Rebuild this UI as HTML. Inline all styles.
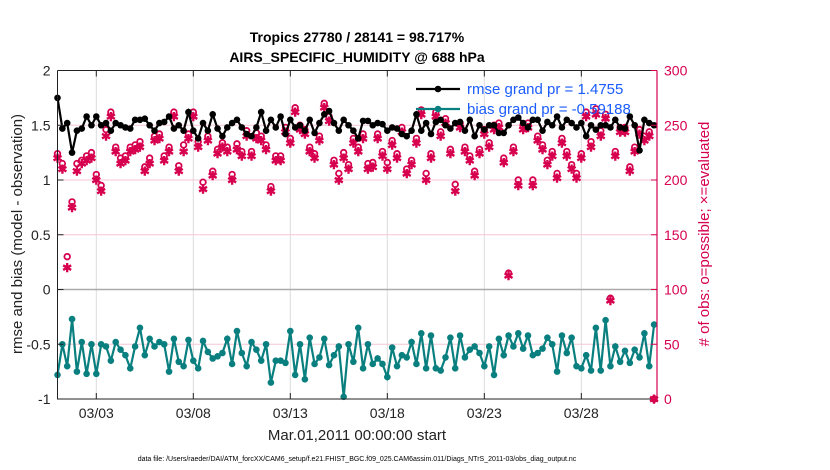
<!DOCTYPE html>
<html><head><meta charset="utf-8"><style>
html,body{margin:0;padding:0;background:#fff;}
svg{display:block;font-family:"Liberation Sans",Arial,sans-serif;}
</style></head><body>
<svg id="chart" width="830" height="470" viewBox="0 0 830 470" xmlns="http://www.w3.org/2000/svg">
<text x="357" y="42" text-anchor="middle" font-size="14" font-weight="bold">Tropics 27780 / 28141 = 98.717%</text>
<text x="357" y="62" text-anchor="middle" font-size="14" font-weight="bold">AIRS_SPECIFIC_HUMIDITY @ 688 hPa</text>
<g id="grid"></g>
<g id="marks"></g>
<g id="axes"></g>
<text x="357" y="440" text-anchor="middle" font-size="15" fill="#222">Mar.01,2011 00:00:00 start</text>
<text x="357" y="461" text-anchor="middle" font-size="7" fill="#000">data file: /Users/raeder/DAI/ATM_forcXX/CAM6_setup/f.e21.FHIST_BGC.f09_025.CAM6assim.011/Diags_NTrS_2011-03/obs_diag_output.nc</text>
<text transform="translate(22,234) rotate(-90)" text-anchor="middle" font-size="15" fill="#222">rmse and bias (model - observation)</text>
<text transform="translate(709,234) rotate(-90)" text-anchor="middle" font-size="15" fill="#d6004f">#  of obs: o=possible; ×=evaluated</text>
<g id="legend"></g>
</svg>
<script>
const xTickDays=[2,7,12,17,22,27];
const xTickLabels=["03/03","03/08","03/13","03/18","03/23","03/28"];
const leftTicks=[2,1.5,1,0.5,0,-0.5,-1];
const rightTicks=[300,250,200,150,100,50,0];
const rmse=[1.75,1.47,1.52,1.25,1.45,1.47,1.58,1.50,1.58,1.50,1.52,1.45,1.52,1.50,1.48,1.47,1.55,1.55,1.56,1.50,1.45,1.52,1.53,1.58,1.47,1.50,1.45,1.62,1.45,1.38,1.52,1.45,1.60,1.47,1.40,1.48,1.52,1.55,1.48,1.42,1.40,1.48,1.62,1.45,1.55,1.48,1.58,1.42,1.55,1.48,1.50,1.45,1.55,1.43,1.52,1.60,1.63,1.52,1.45,1.55,1.50,1.45,1.38,1.54,1.54,1.50,1.52,1.51,1.45,1.48,1.47,1.42,1.40,1.45,1.60,1.45,1.52,1.42,1.53,1.55,1.50,1.47,1.52,1.53,1.45,1.55,1.40,1.50,1.46,1.50,1.50,1.43,1.43,1.50,1.55,1.57,1.52,1.48,1.55,1.55,1.45,1.53,1.50,1.58,1.48,1.55,1.52,1.48,1.52,1.40,1.50,1.46,1.50,1.50,1.48,1.55,1.48,1.47,1.58,1.50,1.27,1.55,1.52,1.50];
const bias=[-0.78,-0.50,-0.70,-0.27,-0.75,-0.48,-0.77,-0.50,-0.77,-0.50,-0.52,-0.65,-0.48,-0.55,-0.60,-0.72,-0.52,-0.35,-0.60,-0.45,-0.52,-0.48,-0.50,-0.75,-0.45,-0.66,-0.70,-0.46,-0.65,-0.72,-0.47,-0.57,-0.63,-0.61,-0.58,-0.45,-0.68,-0.38,-0.58,-0.70,-0.48,-0.55,-0.65,-0.50,-0.85,-0.65,-0.65,-0.67,-0.38,-0.78,-0.50,-0.82,-0.44,-0.68,-0.62,-0.45,-0.69,-0.60,-0.52,-0.98,-0.50,-0.66,-0.35,-0.72,-0.50,-0.68,-0.63,-0.68,-0.80,-0.53,-0.70,-0.60,-0.62,-0.48,-0.68,-0.40,-0.72,-0.42,-0.72,-0.74,-0.62,-0.44,-0.72,-0.42,-0.62,-0.55,-0.52,-0.58,-0.70,-0.52,-0.78,-0.45,-0.60,-0.42,-0.52,-0.40,-0.54,-0.42,-0.60,-0.58,-0.54,-0.44,-0.50,-0.75,-0.42,-0.58,-0.44,-0.70,-0.72,-0.60,-0.74,-0.35,-0.74,-0.28,-0.70,-0.52,-0.66,-0.56,-0.67,-0.55,-0.62,-0.40,-0.70,-0.32];
const possible=[224,215,130,180,215,218,222,225,205,195,246,262,230,220,222,230,232,235,212,220,240,242,222,230,262,213,232,242,262,235,198,240,208,228,234,230,205,233,226,245,226,243,240,232,194,222,222,248,238,266,250,246,230,224,240,270,258,218,206,225,214,238,230,242,215,216,242,226,216,236,224,248,210,218,238,264,206,224,262,244,256,228,196,252,230,222,208,228,246,234,250,252,220,115,230,200,250,252,200,240,232,218,226,206,238,226,214,206,224,262,235,265,245,260,92,226,248,248,212,230,246,240,244,0];
const evaluated=[220,210,120,175,208,215,218,220,200,190,240,258,226,215,218,226,228,230,208,215,236,238,218,226,258,208,226,238,258,230,192,236,204,224,230,226,200,228,222,240,222,238,236,228,190,218,218,244,234,262,246,242,226,220,236,266,254,214,200,220,210,234,226,238,210,212,238,222,210,232,220,244,206,214,234,260,200,220,258,240,252,224,190,248,226,218,204,224,242,230,246,248,216,113,226,195,246,248,195,236,228,214,222,202,234,222,210,202,220,258,230,260,240,256,90,222,244,244,208,226,242,236,240,0];
const X0=57.5,X1=657,Y0=70.5,Y1=399,NDAYS=30.9;
function xDay(d){return X0+(d/NDAYS)*(X1-X0);}
function xIdx(i){return xDay(i*0.25);}
function yL(v){return Y0+(2-v)/3*(Y1-Y0);}
function yR(v){return Y1-v/300*(Y1-Y0);}
const NS="http://www.w3.org/2000/svg";
function mk(tag,attrs,parent){const e=document.createElementNS(NS,tag);for(const k in attrs)e.setAttribute(k,attrs[k]);parent.appendChild(e);return e;}
const grid=document.getElementById('grid'),marks=document.getElementById('marks'),axes=document.getElementById('axes'),legend=document.getElementById('legend');
xTickDays.forEach((d,i)=>{const l=mk('line',{x1:xDay(d),x2:xDay(d),y1:Y0,y2:Y1,stroke:'#dcdcdc','stroke-width':1},grid);

});
rightTicks.forEach(v=>{if(v===0||v===300||v===100)return;const l=mk('line',{x1:X0,x2:X1,y1:yR(v),y2:yR(v),stroke:'#f5c6d6','stroke-width':1},grid);

});
const zl=mk('line',{x1:X0,x2:X1,y1:yL(0),y2:yL(0),stroke:'#aaa','stroke-width':1.5},grid);


const pink='#d6004f';
possible.forEach((v,i)=>{const g=mk('circle',{cx:xIdx(i),cy:yR(v),r:2.8,fill:'none',stroke:pink,'stroke-width':1.8},marks);

});
evaluated.forEach((v,i)=>{const x=xIdx(i),y=yR(v);const t=mk('text',{x:x,y:y+4.5,'text-anchor':'middle','font-size':12,'font-weight':'bold',fill:pink},marks);t.textContent='✱';

});
function series(arr,color,name){const pts=arr.map((v,i)=>xIdx(i).toFixed(1)+','+yL(v).toFixed(1)).join(' ');
const p=mk('polyline',{points:pts,fill:'none',stroke:color,'stroke-width':2.2},marks);


arr.forEach((v,i)=>{const c=mk('circle',{cx:xIdx(i),cy:yL(v),r:3.3,fill:color},marks);

});}
series(rmse,'#000','rmse');
series(bias,'#0a7f7f','bias');
const ab=mk('path',{d:`M${X0},${Y0}V${Y1}H${X1}M${X0},${Y0}H${X1}`,fill:'none',stroke:'#222','stroke-width':1},axes);


const ra=mk('line',{x1:X1,x2:X1,y1:Y0,y2:Y1,stroke:pink,'stroke-width':1.2},axes);


xTickDays.forEach((d,i)=>{mk('line',{x1:xDay(d),x2:xDay(d),y1:Y1,y2:Y1-6,stroke:'#222'},axes);mk('line',{x1:xDay(d),x2:xDay(d),y1:Y0,y2:Y0+6,stroke:'#222'},axes);
const t=mk('text',{x:xDay(d),y:Y1+19,'text-anchor':'middle','font-size':14,fill:'#222'},axes);t.textContent=xTickLabels[i];

});
leftTicks.forEach(v=>{mk('line',{x1:X0,x2:X0+6,y1:yL(v),y2:yL(v),stroke:'#222'},axes);
const t=mk('text',{x:X0-7,y:yL(v)+5,'text-anchor':'end','font-size':14,fill:'#222'},axes);t.textContent=String(v);

});
rightTicks.forEach(v=>{mk('line',{x1:X1,x2:X1-6,y1:yR(v),y2:yR(v),stroke:pink},axes);
const t=mk('text',{x:X1+7,y:yR(v)+5,'font-size':14,fill:pink},axes);t.textContent=String(v);

});
[['rmse grand pr = 1.4755','#000',89,'legend-rmse'],['bias grand pr = -0.59188','#0a7f7f',109,'legend-bias']].forEach(r=>{
mk('line',{x1:416,x2:460,y1:r[2],y2:r[2],stroke:r[1],'stroke-width':2.2},legend);
mk('circle',{cx:438,cy:r[2],r:3.3,fill:r[1]},legend);
const t=mk('text',{x:467,y:r[2]+5,'font-size':15,fill:'#1a5cff'},legend);t.textContent=r[0];

});
</script>
</body></html>
